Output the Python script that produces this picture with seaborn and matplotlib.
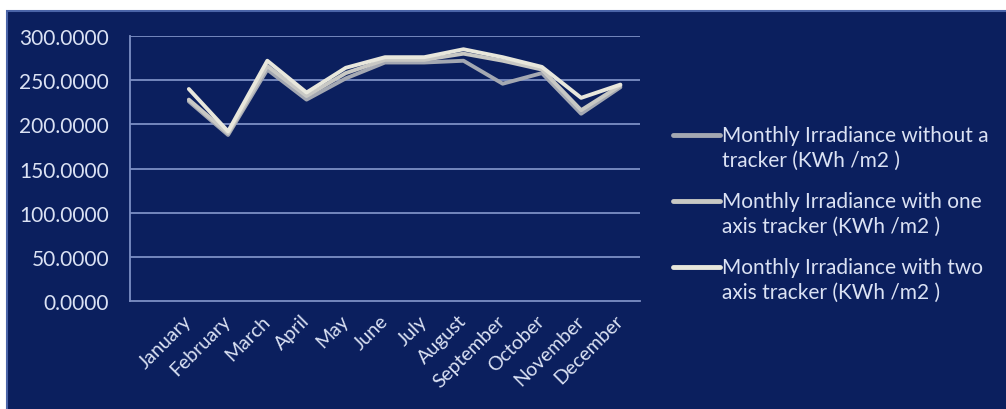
import matplotlib
matplotlib.use("Agg")
import matplotlib.pyplot as plt
from matplotlib.patches import Rectangle
from matplotlib.lines import Line2D
import seaborn as sns
import pandas as pd
import numpy as np

months = ["January", "February", "March", "April", "May", "June", "July",
          "August", "September", "October", "November", "December"]
no_tracker = [226, 188, 262, 228, 252, 270, 270, 272, 246, 258, 212, 242]
one_axis = [228, 190, 266, 232, 258, 273, 273, 280, 272, 262, 216, 244]
two_axis = [240, 192, 272, 236, 264, 276, 276, 285, 276, 265, 230, 245]
series_names = ["Monthly Irradiance without a\ntracker (KWh /m2 )",
                "Monthly Irradiance with one\naxis tracker (KWh /m2 )",
                "Monthly Irradiance with two\naxis tracker (KWh /m2 )"]
yticks = [0, 50, 100, 150, 200, 250, 300]

NAVY = "#0b1f5e"
TXT = "#dbe2f4"
GRID = "#7d8fc4"
colors = ["#a4a8b2", "#c8c8c4", "#e8e7dc"]

sns.set_theme(style="white")
plt.rcParams["font.family"] = ["Lato", "DejaVu Sans"]

fig = plt.figure(figsize=(10.06, 4.10), dpi=100, facecolor="white")
W, H = 1006, 410
fig.patches.append(Rectangle((7 / W, -0.01), 1 - 7 / W + 0.01, (H - 12) / H + 0.01,
                             transform=fig.transFigure, facecolor=NAVY,
                             edgecolor="#4a64a8", linewidth=1.5, zorder=-10))

ax = fig.add_axes([130 / W, 1 - 302 / H, (640 - 130) / W, (302 - 37) / H])
ax.set_zorder(5)
ax.set_facecolor("none")

df = pd.DataFrame({
    "pos": list(range(12)) * 3,
    "value": no_tracker + one_axis + two_axis,
    "series": [series_names[0]] * 12 + [series_names[1]] * 12 + [series_names[2]] * 12,
})
sns.lineplot(data=df, x="pos", y="value", hue="series", palette=colors,
             linewidth=2.8, ax=ax, legend=False, sort=False)

ax.set_xlim(-1.5, 11.5)
ax.set_ylim(0, 300)
ax.set_yticks(yticks)
ax.set_yticklabels([f"{v:.4f}" for v in yticks], color=TXT, fontsize=15)
for v in yticks[1:]:
    ax.axhline(v, color=GRID, linewidth=1.3, zorder=0.5)

ax.set_xticks(range(12))
ax.set_xticklabels(months, rotation=45, ha="right", va="center",
                   rotation_mode="anchor", color=TXT, fontsize=14)
ax.set_xticks(np.arange(-0.5, 12, 1.0), minor=True)
ax.tick_params(axis="x", which="major", length=0, pad=12)
ax.tick_params(axis="x", which="minor", length=4, color=GRID, direction="inout")
ax.tick_params(axis="y", length=5, width=1.3, color=GRID, direction="out", pad=10)
ax.set_xlabel("")
ax.set_ylabel("")

for s in ["top", "right"]:
    ax.spines[s].set_visible(False)
for s in ["left", "bottom"]:
    ax.spines[s].set_color(GRID)
    ax.spines[s].set_linewidth(1.3)

# Excel-style legend: handle aligned with the first text line of each entry
leg_first_line_y = [136, 202, 268]
for name, col, yy in zip(series_names, colors, leg_first_line_y):
    fy = 1 - yy / H
    fig.add_artist(Line2D([673 / W, 720 / W], [fy, fy], transform=fig.transFigure,
                          color=col, linewidth=3.5, solid_capstyle="round"))
    for k, part in enumerate(name.split("\n")):
        fig.text(722 / W, 1 - (yy + 25 * k) / H, part, color=TXT, fontsize=15,
                 va="center", ha="left")

fig.savefig("out.png", dpi=100, facecolor="white")
